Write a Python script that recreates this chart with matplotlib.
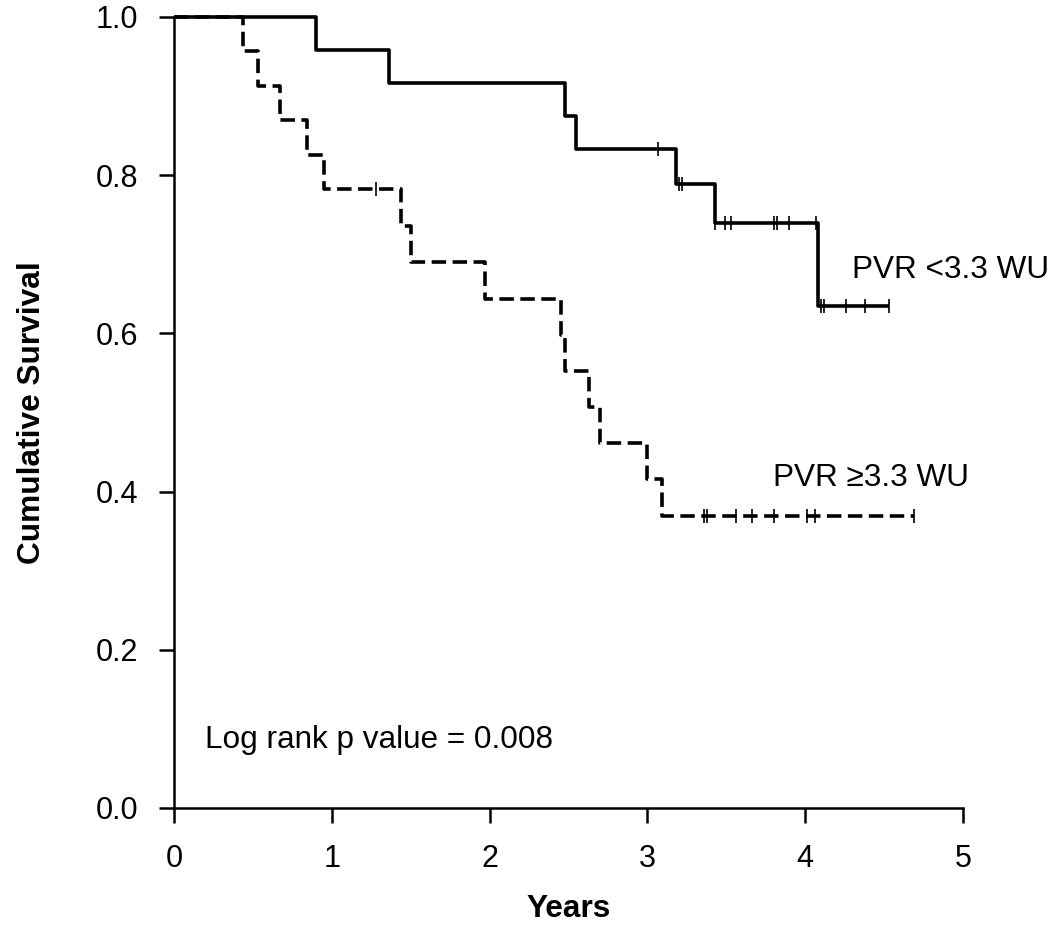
import numpy as np
import matplotlib
matplotlib.use("Agg")
import matplotlib.pyplot as plt

plt.rcParams['font.family'] = ['Liberation Sans', 'DejaVu Sans']

# PVR < 3.3 WU (solid)
low_t = [0, 0.90, 1.36, 2.48, 2.55, 3.18, 3.43, 4.08]
low_s = [1.0, 0.958, 0.917, 0.875, 0.833, 0.789, 0.740, 0.635]
low_end = 4.53
low_cens = [3.07, 3.20, 3.22, 3.43, 3.49, 3.53, 3.80, 3.82, 3.90, 4.07,
             4.10, 4.12, 4.26, 4.38, 4.53]

# PVR >= 3.3 WU (dashed)
high_t = [0, 0.44, 0.53, 0.67, 0.84, 0.95, 1.44, 1.50, 1.97, 2.45, 2.48,
          2.63, 2.70, 3.00, 3.09]
high_s = [1.0, 0.957, 0.913, 0.870, 0.826, 0.783, 0.736, 0.690, 0.644,
          0.598, 0.553, 0.507, 0.462, 0.416, 0.369]
high_end = 4.69
high_cens = [1.28, 3.36, 3.38, 3.56, 3.66, 3.80, 4.01, 4.06, 4.69]


def km_curve(ax, t, s, end, cens, **kw):
    tt = list(t) + [end]
    ss = list(s) + [s[-1]]
    ax.step(tt, ss, where='post', color='black', lw=2.6,
            solid_capstyle='butt', clip_on=False, **kw)
    # censor marks: survival level at each censor time
    idx = np.searchsorted(t, cens, side='right') - 1
    ax.plot(cens, np.array(s)[idx], ls='none', marker='|', ms=9.5, mew=1.2,
            color='black', clip_on=False)


fig = plt.figure(figsize=(10.59, 9.27), dpi=100)
ax = fig.add_axes([0.1643, 0.1284, 0.745, 0.8533])

km_curve(ax, high_t, high_s, high_end, high_cens, ls=(0, (4, 1.8)))
km_curve(ax, low_t, low_s, low_end, low_cens)

ax.set_xlim(0, 5)
ax.set_ylim(0, 1.0)
ax.set_xticks(range(6))
ax.set_yticks(np.arange(0, 1.01, 0.2))
ax.set_yticklabels([f'{v:.1f}' for v in np.arange(0, 1.01, 0.2)])
for sp in ['top', 'right']:
    ax.spines[sp].set_visible(False)
for sp in ['left', 'bottom']:
    ax.spines[sp].set_linewidth(1.8)
ax.tick_params(direction='out', length=11, width=1.8, labelsize=22, pad=15)

ax.set_xlabel('Years', fontsize=22.8, fontweight='bold', labelpad=14)
ax.set_ylabel('Cumulative Survival', fontsize=22.8, fontweight='bold', labelpad=35)

ax.text(4.295, 0.680, 'PVR <3.3 WU', fontsize=22.7, va='center', ha='left')
ax.text(3.798, 0.417, 'PVR \u22653.3 WU', fontsize=22.7, va='center', ha='left')
ax.text(0.196, 0.086, 'Log rank p value = 0.008', fontsize=22.7, va='center', ha='left')

fig.savefig('out.png', dpi=100)
